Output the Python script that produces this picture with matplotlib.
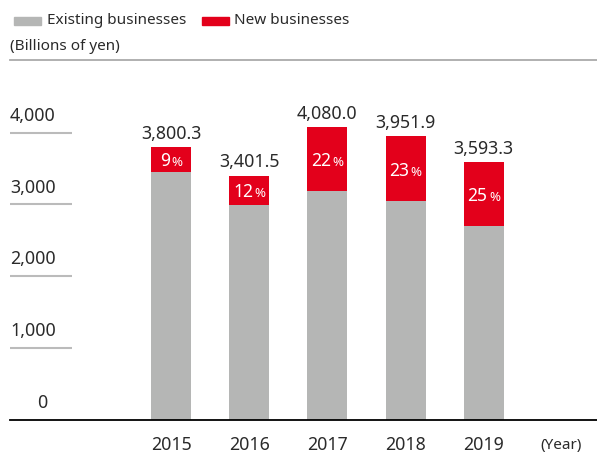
import matplotlib
matplotlib.use('Agg')
import matplotlib.pyplot as plt
from matplotlib.patches import Rectangle
from matplotlib.lines import Line2D
from matplotlib.offsetbox import TextArea, HPacker, AnnotationBbox

plt.rcParams['font.family'] = ['Noto Sans', 'DejaVu Sans']

years = ['2015', '2016', '2017', '2018', '2019']
existing = [3458, 2993, 3182, 3043, 2695]
new = [342, 408, 898, 909, 898]
totals = ['3,800.3', '3,401.5', '4,080.0', '3,951.9', '3,593.3']
new_pct = ['9', '12', '22', '23', '25']
yticks = [0, 1000, 2000, 3000, 4000]

GRAY = '#b5b6b5'
RED = '#e3001b'
TXT = '#2a2a2a'
W, H = 597, 453

fig = plt.figure(figsize=(W / 100, H / 100), dpi=100)
# axes covers full width; baseline at px 419.5, top at px 60
ax = fig.add_axes([0, (H - 419.5) / H, 1, (419.5 - 60) / H])
spacing = 78.2
ax.set_xlim(-171 / spacing, (W - 171) / spacing)
ax.set_ylim(0, (419.5 - 60) / 71.7 * 1000)
ax.axis('off')

x = list(range(len(years)))
ax.bar(x, existing, width=0.51, color=GRAY, zorder=2)
ax.bar(x, new, bottom=existing, width=0.51, color=RED, zorder=2)

# y tick labels with short gridlines on the left
ytr = ax.get_yaxis_transform()
for v in yticks:
    ax.text(10 / W if v else 0.07, v + 110, f'{v:,}', transform=ytr,
            ha='left' if v else 'center', va='bottom', fontsize=12.8, color=TXT)
    if v:
        ax.plot([10 / W, 72 / W], [v, v], transform=ytr, color='#bbbbbb',
                lw=1.5, solid_capstyle='butt', clip_on=False)

# baseline
ax.plot([10 / W, 1], [0, 0], transform=ytr, color='black', lw=1.3, clip_on=False)

for i in x:
    top = existing[i] + new[i]
    ax.annotate(totals[i], (i, top), xytext=(0, 3), textcoords='offset points',
                ha='center', va='bottom', fontsize=12.8, color=TXT)
    pack = HPacker(children=[
        TextArea(new_pct[i], textprops=dict(size=12.6, color='white')),
        TextArea('%', textprops=dict(size=9.5, color='white'))],
        align='baseline', pad=0, sep=1)
    ab = AnnotationBbox(pack, (i, existing[i] + new[i] / 2 - 25), frameon=False,
                        box_alignment=(0.5, 0.5), pad=0)
    ax.add_artist(ab)
    ax.text(i, -0.072, years[i], transform=ax.get_xaxis_transform(),
            ha='center', va='center', fontsize=12.8, color=TXT)

ax.text((561 - 171) / spacing, -0.072, '(Year)', transform=ax.get_xaxis_transform(),
        ha='center', va='center', fontsize=11, color=TXT)

# header: legend, unit and top rule
fig.patches.append(Rectangle((14 / W, 1 - 25 / H), 27 / W, 8 / H,
                             transform=fig.transFigure, color=GRAY))
fig.patches.append(Rectangle((202 / W, 1 - 25 / H), 27 / W, 8 / H,
                             transform=fig.transFigure, color=RED))
fig.text(47 / W, 1 - 20.5 / H, 'Existing businesses', ha='left', va='center',
         fontsize=11, color=TXT)
fig.text(234 / W, 1 - 20.5 / H, 'New businesses', ha='left', va='center',
         fontsize=11, color=TXT)
fig.text(10 / W, 1 - 46 / H, '(Billions of yen)', ha='left', va='center',
         fontsize=11, color=TXT)
fig.lines.append(Line2D([10 / W, 1], [1 - 60 / H, 1 - 60 / H],
                        transform=fig.transFigure, color='#aaaaaa', lw=1.3))

fig.savefig('out.png', dpi=100)
